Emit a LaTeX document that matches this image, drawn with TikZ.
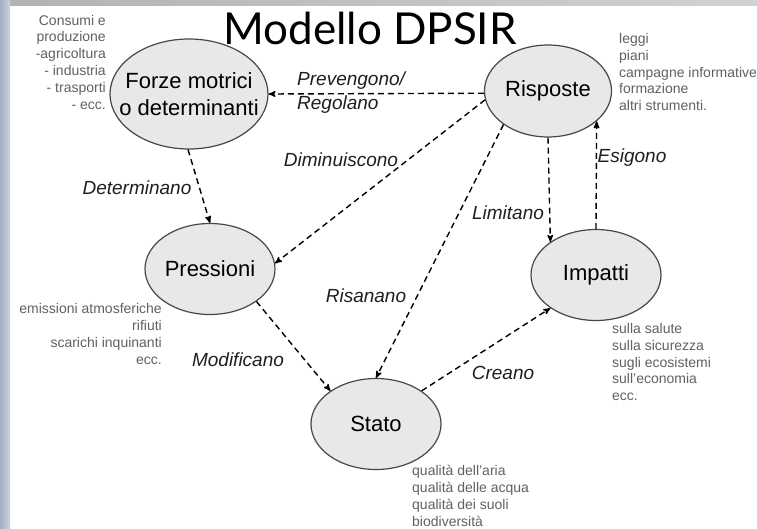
\documentclass[tikz,border=0pt]{standalone}
\usepackage{fontspec}
\setmainfont{Liberation Sans}
\newfontfamily\titlefont{Lato}
\usetikzlibrary{shapes.geometric, arrows}
\definecolor{framebar}{RGB}{140,156,178}
\tikzset{
    x=1pt, y=-1pt, % pixel-like units, y going down
    >=stealth', % arrow heads
    block/.style={ellipse, draw=black!72, line width=1.2pt, fill=black!9, inner sep=0pt,
        minimum width=130pt, minimum height=91pt, align=center,
        font=\fontsize{22}{27}\selectfont}, % the five DPSIR boxes
    link/.style={->, line width=1.4pt, dash pattern=on 6pt off 4pt}, % dashed relations
    verb/.style={font=\fontsize{19}{24}\selectfont\itshape, text=black!88, inner sep=0pt},
    note/.style={font=\fontsize{14}{16.8}\selectfont, text=black!62, inner sep=0pt}
}
\begin{document}
\begin{tikzpicture}
		\useasboundingbox (0,0) rectangle (757,529);
		% Cornice
		\fill[white] (0,0) rectangle (757,529);
		\shade[left color=black!30, right color=black!18] (0,0) rectangle (757,6);
		\shade[left color=framebar!80, right color=framebar!45] (0,0) rectangle (10,529);

		% Titolo
		\node[anchor=base, inner sep=0pt, font=\titlefont\fontsize{44}{44}\selectfont] (T) at (370,45) {Modello DPSIR};

		% Elementi
		\node[block, inner xsep=-25pt, inner ysep=-12pt, minimum width=158pt, minimum height=110pt] (F) at (189,94) {Forze motrici\\o determinanti};
		\node[block, minimum width=127pt, minimum height=92pt] (R) at (548,91) {Risposte};
		\node[block] (P) at (210,269) {Pressioni};
		\node[block] (I) at (596,275) {Impatti};
		\node[block] (S) at (376,424) {Stato};

		% Note
		\node[note, anchor=east, align=right] (nF) at (106,62) {Consumi e\\produzione\\-agricoltura\\- industria\\- trasporti\\- ecc.};
		\node[note, anchor=west, align=left] (nR) at (619,72) {leggi\\piani\\campagne informative\\formazione\\altri strumenti.};
		\node[note, anchor=east, align=right] (nP) at (162,334) {emissioni atmosferiche\\rifiuti\\scarichi inquinanti\\ecc.};
		\node[note, anchor=west, align=left] (nI) at (612,362) {sulla salute\\sulla sicurezza\\sugli ecosistemi\\sull'economia\\ecc.};
		\node[note, anchor=west, align=left] (nS) at (412,496) {qualità dell'aria\\qualità delle acqua\\qualità dei suoli\\biodiversità};

		% Relazioni
		\draw[link] (R.182) -- (F.east);
		\draw[link] (F.-91) -- (P.north);
		\draw[link] (R.188) -- (P.5);
		\draw[link] (R.217) -- (S.north);
		\draw[link] (R.-90) -- (I.144);
		\draw[link] (I.north) -- (R.-32);
		\draw[link] (P.-35) -- (S.144);
		\draw[link] (S.36) -- (I.216);

		% Etichette
		\node[verb, anchor=west, align=left] (lRF) at (297,93) {Prevengono/\\Regolano};
		\node[verb] (lFP) at (137,188) {Determinano};
		\node[verb] (lRP) at (341,160) {Diminuiscono};
		\node[verb] (lRS) at (366,296) {Risanano};
		\node[verb] (lRI) at (508,213) {Limitano};
		\node[verb] (lIR) at (632,158) {Esigono};
		\node[verb] (lPS) at (238,360) {Modificano};
		\node[verb] (lSI) at (503,373) {Creano};
	\end{tikzpicture}
\end{document}
